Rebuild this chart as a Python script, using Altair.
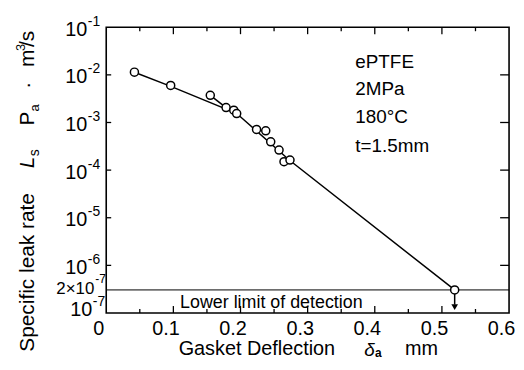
import altair as alt
import pandas as pd

FONT = "Liberation Sans"

# measured points (gasket deflection mm, specific leak rate)
pts_x = [0.042, 0.096, 0.155, 0.1785, 0.190, 0.1943, 0.2239, 0.2376, 0.245, 0.2574, 0.2648, 0.2737, 0.519]
pts_y = [0.0114, 0.0060, 0.00372, 0.00206, 0.00181, 0.00154, 0.000714, 0.000668, 0.000394, 0.000264, 0.000150, 0.000163, 3.05e-7]

# fitted line vertices
line_x = [0.042, 0.0953, 0.194, 0.2726, 0.519]
line_y = [0.01137, 0.0058, 0.00156, 0.000163, 3.05e-7]
# short connecting segment
seg_x = [0.155, 0.1785]
seg_y = [0.00372, 0.00206]

limit_value = 3.05e-7
arrow_x = [0.519]
arrow_top = [3.05e-7]
arrow_bottom = [1.5e-7]
arrow_head = [1.33e-7]

decades = [1e-1, 1e-2, 1e-3, 1e-4, 1e-5, 1e-6]
decade_exp = ["-1", "-2", "-3", "-4", "-5", "-6"]
inner_decades = [1e-2, 1e-3, 1e-4, 1e-5, 1e-6]
x_labels = [0, 0.1, 0.2, 0.3, 0.4, 0.5, 0.6]
x_major = [0.1, 0.2, 0.3, 0.4, 0.5]
x_minor = [0.05, 0.15, 0.25, 0.35, 0.45, 0.55]

note_text = ["ePTFE", "2MPa", "180°C", "t=1.5mm"]
note_x = [0.371, 0.371, 0.371, 0.371]
note_y = [0.01393, 0.00369, 0.000959, 0.000238]

limit_text = ["Lower limit of  detection"]
limit_text_x = [0.11]
limit_text_y = [1.30e-7]

W, H = 406, 288
xs = alt.Scale(domain=[0, 0.6], nice=False, zero=False)
ys = alt.Scale(type="log", domain=[1e-7, 1e-1], nice=False)
xaxis = alt.Axis(values=x_labels, labelExpr="datum.value == 0 ? '0' : format(datum.value, '.1f')",
                 ticks=False, domain=False, grid=False, labelFontSize=20, labelFont=FONT,
                 labelColor="black", labelOffset=-8, labelPadding=6, labelFlush=False,
                 labelOverlap=False, title=None)


def X(f):
    return alt.X(f, type="quantitative", scale=xs, axis=xaxis)


def Y(f):
    return alt.Y(f, type="quantitative", scale=ys, axis=None)


pts = pd.DataFrame({"x": pts_x, "y": pts_y})
line_df = pd.DataFrame({"x": line_x, "y": line_y, "o": range(len(line_x))})
seg_df = pd.DataFrame({"x": seg_x, "y": seg_y, "o": range(len(seg_x))})

line = alt.Chart(line_df).mark_line(color="black", strokeWidth=1.5).encode(x=X("x"), y=Y("y"), order="o:Q")
seg = alt.Chart(seg_df).mark_line(color="black", strokeWidth=1.5).encode(x=X("x"), y=Y("y"), order="o:Q")

limit = alt.Chart(pd.DataFrame({"y": [limit_value]})).mark_rule(color="black", strokeWidth=1).encode(y=Y("y"))

arrow = alt.Chart(pd.DataFrame({"x": arrow_x, "y": arrow_top, "y2": arrow_bottom})).mark_rule(
    color="black", strokeWidth=1.5).encode(x=X("x"), y=Y("y"), y2="y2:Q")
head = alt.Chart(pd.DataFrame({"x": arrow_x, "y": arrow_head})).mark_point(
    shape="triangle-down", filled=True, color="black", size=45, opacity=1).encode(x=X("x"), y=Y("y"))

points = alt.Chart(pts).mark_point(shape="circle", size=66, filled=False, fill="white", fillOpacity=1,
                                   stroke="black", strokeWidth=1.5, opacity=1).encode(x=X("x"), y=Y("y"))

notes = alt.Chart(pd.DataFrame({"x": note_x, "y": note_y, "t": note_text})).mark_text(
    align="left", baseline="alphabetic", fontSize=19, font=FONT, color="black").encode(
    x=X("x"), y=Y("y"), text="t:N")

limit_lab = alt.Chart(pd.DataFrame({"x": limit_text_x, "y": limit_text_y, "t": limit_text})).mark_text(
    align="left", baseline="alphabetic", fontSize=18, font=FONT, color="black").encode(
    x=X("x"), y=Y("y"), text="t:N")

# inward ticks
tb_major = alt.Chart(pd.DataFrame({"x": x_major})).mark_rule(color="black", strokeWidth=1.3).encode(
    x=X("x"), y=alt.value(H), y2=alt.value(H - 7))
tb_minor = alt.Chart(pd.DataFrame({"x": x_minor})).mark_rule(color="black", strokeWidth=1.3).encode(
    x=X("x"), y=alt.value(H), y2=alt.value(H - 4))
tt_major = alt.Chart(pd.DataFrame({"x": x_major})).mark_rule(color="black", strokeWidth=1.3).encode(
    x=X("x"), y=alt.value(0), y2=alt.value(7))
tt_minor = alt.Chart(pd.DataFrame({"x": x_minor})).mark_rule(color="black", strokeWidth=1.3).encode(
    x=X("x"), y=alt.value(0), y2=alt.value(4))
tl = alt.Chart(pd.DataFrame({"y": inner_decades})).mark_rule(color="black", strokeWidth=1.3).encode(
    y=Y("y"), x=alt.value(0), x2=alt.value(5))
tr = alt.Chart(pd.DataFrame({"y": inner_decades})).mark_rule(color="black", strokeWidth=1.3).encode(
    y=Y("y"), x=alt.value(W), x2=alt.value(W - 9))

# y tick labels 10^n
dec_df = pd.DataFrame({"y": decades, "e": decade_exp, "b": ["10"] * len(decades)})
ten = alt.Chart(dec_df).mark_text(align="right", baseline="alphabetic", dy=8.5, fontSize=20,
                                  font=FONT, color="black").encode(y=Y("y"), x=alt.value(-19), text="b:N")
expo = alt.Chart(dec_df).mark_text(align="left", baseline="alphabetic", dy=-1.5, fontSize=14,
                                   font=FONT, color="black").encode(y=Y("y"), x=alt.value(-18.5), text="e:N")
bot_df = pd.DataFrame({"y": [1e-7], "b": ["10"], "e": ["-7"]})
ten7 = alt.Chart(bot_df).mark_text(align="right", baseline="alphabetic", dy=3, fontSize=20,
                                   font=FONT, color="black").encode(y=Y("y"), x=alt.value(-14), text="b:N")
exp7 = alt.Chart(bot_df).mark_text(align="left", baseline="alphabetic", dy=-7, fontSize=14,
                                   font=FONT, color="black").encode(y=Y("y"), x=alt.value(-13.5), text="e:N")
lim_df = pd.DataFrame({"y": [limit_value], "b": ["2\u00d710"], "e": ["-7"]})
ten_l = alt.Chart(lim_df).mark_text(align="right", baseline="alphabetic", dy=4.5, fontSize=17,
                                    font=FONT, color="black").encode(y=Y("y"), x=alt.value(-12), text="b:N")
exp_l = alt.Chart(lim_df).mark_text(align="left", baseline="alphabetic", dy=-7, fontSize=12,
                                    font=FONT, color="black").encode(y=Y("y"), x=alt.value(-11), text="e:N")


def piece(text, x, y, size=20, angle=0, style="normal", weight="normal"):
    return alt.Chart(pd.DataFrame({"t": [text]})).mark_text(
        align="left", baseline="alphabetic", angle=angle, fontSize=size, font=FONT,
        fontStyle=style, fontWeight=weight, color="black").encode(
        x=alt.value(x), y=alt.value(y), text="t:N")


ytitle = [
    piece("Specific leak rate", -73, 327, 21, 270),
    piece("L", -73, 142, 21, 270, "italic"),
    piece("s", -68, 130, 14, 270),
    piece("P", -73, 99, 21, 270),
    piece("a", -68, 85, 13, 270),
    piece("\u00b7", -73, 62, 21, 270),
    piece("m", -73, 40, 21, 270),
    piece("3", -82, 24, 13, 270),
    piece("/s", -73, 20, 21, 270),
]
xtitle = [
    piece("Gasket Deflection", 73, 330, 20),
    piece("\u03b4", 260, 331, 19, 0, "italic"),
    piece("a", 271, 332, 12, 0, "normal", "bold"),
    piece("mm", 301, 330, 20),
]

chart = alt.layer(
    limit, line, seg, arrow, head, points, notes, limit_lab,
    tb_major, tb_minor, tt_major, tt_minor, tl, tr,
    ten, expo, ten7, exp7, ten_l, exp_l, *ytitle, *xtitle
).properties(
    width=W, height=H,
    autosize=alt.AutoSizeParams(type="none"),
    padding={"left": 99, "top": 18, "right": 7, "bottom": 48},
).configure_view(stroke="black", strokeWidth=1.6)

chart.save("out.html", embed_options={"renderer": "svg", "actions": False})
